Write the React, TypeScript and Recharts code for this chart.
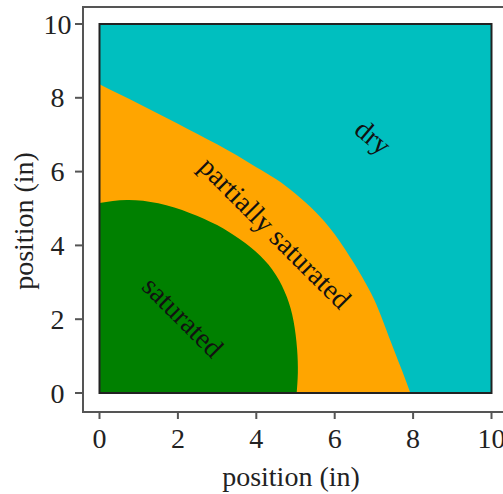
import React from "react";
import {
  ComposedChart,
  Area,
  XAxis,
  YAxis,
  CartesianGrid,
  ReferenceArea,
  ReferenceDot,
} from "recharts";

// zone boundaries (inches), listed along each boundary
const saturatedX = [0, 0.7, 1.5, 2.3, 3.0, 3.6, 4.1, 4.5, 4.78, 4.95, 5.04, 5.06, 5.03];
const saturatedY = [5.15, 5.23, 5.14, 4.88, 4.55, 4.15, 3.72, 3.2, 2.6, 1.95, 1.2, 0.55, 0];

const partialX = [0, 0.5, 1, 1.5, 2, 2.5, 3, 3.5, 4, 4.5, 5, 5.5, 6, 6.5, 6.75, 7, 7.25, 7.5, 7.72, 7.93];
const partialY = [8.37, 8.1, 7.84, 7.57, 7.3, 7.02, 6.74, 6.44, 6.12, 5.8, 5.4, 4.92, 4.3, 3.5, 3.05, 2.55, 1.9, 1.2, 0.6, 0];

const axisTicks = [0, 2, 4, 6, 8, 10];

const zoneNames = ["dry", "partially saturated", "saturated"];
const zoneX = [6.98, 4.48, 2.13];
const zoneY = [6.94, 4.34, 2.06];
const zoneAngle = [40, 45, 45];

// one table; each Area skips the rows of the other boundary (connectNulls)
const data = [
  ...saturatedX.map((x, i) => ({ x, saturated: saturatedY[i], partial: null })),
  ...partialX.map((x, i) => ({ x, saturated: null, partial: partialY[i] })),
];

const FONT = "'Liberation Serif', 'Times New Roman', serif";
const AXIS_GREY = "#555";
const FS = 28;

const XTick = ({ x, y, payload }: any) => (
  <g>
    <line x1={x} x2={x} y1={y + 19} y2={y + 26} stroke={AXIS_GREY} strokeWidth={2} />
    <text x={x} y={y + 55} textAnchor="middle" fontFamily={FONT} fontSize={FS} fill="#222">
      {payload.value}
    </text>
  </g>
);

const YTick = ({ x, y, payload }: any) => (
  <g>
    <line x1={x - 24.5} x2={x - 17} y1={y} y2={y} stroke={AXIS_GREY} strokeWidth={2} />
    <text x={x - 42} y={y + 9.5} textAnchor="middle" fontFamily={FONT} fontSize={FS} fill="#222">
      {payload.value}
    </text>
  </g>
);

const zoneLabel = (i: number) => (props: any) => (
  <text
    x={props.cx}
    y={props.cy}
    transform={`rotate(${zoneAngle[i]} ${props.cx} ${props.cy})`}
    textAnchor="middle"
    dominantBaseline="central"
    fontFamily={FONT}
    fontSize={FS}
    fill="#111"
  >
    {zoneNames[i]}
  </text>
);

export default function App() {
  return (
    <div
      style={{
        position: "absolute",
        left: 0,
        top: 0,
        width: 503,
        height: 494,
        overflow: "hidden",
        background: "#fff",
      }}
    >
      <div
        style={{
          position: "absolute",
          left: 82,
          top: 6,
          width: 460,
          height: 407,
          border: `2px solid ${AXIS_GREY}`,
          boxSizing: "border-box",
        }}
      />
      <div style={{ position: "absolute", left: 0, top: 0 }}>
        <ComposedChart
          width={503}
          height={494}
          data={data}
          margin={{ top: 24, right: 11.5, left: 0, bottom: 0 }}
        >
          <CartesianGrid horizontal={false} vertical={false} fill="#00BFBF" fillOpacity={1} />
          <XAxis
            dataKey="x"
            type="number"
            domain={[0, 10]}
            ticks={axisTicks}
            allowDataOverflow
            axisLine={false}
            tickLine={false}
            tickSize={0}
            tickMargin={0}
            height={101}
            tick={<XTick />}
          />
          <YAxis
            type="number"
            domain={[0, 10]}
            ticks={axisTicks}
            allowDataOverflow
            axisLine={false}
            tickLine={false}
            tickSize={0}
            tickMargin={0}
            width={99.5}
            tick={<YTick />}
          />
          <Area
            type="natural"
            dataKey="partial"
            connectNulls
            fill="#FFA500"
            fillOpacity={1}
            stroke="none"
            dot={false}
            activeDot={false}
            isAnimationActive={false}
          />
          <Area
            type="natural"
            dataKey="saturated"
            connectNulls
            fill="#008000"
            fillOpacity={1}
            stroke="none"
            dot={false}
            activeDot={false}
            isAnimationActive={false}
          />
          <ReferenceArea x1={0} x2={10} y1={0} y2={10} fill="none" stroke="#222" strokeWidth={2} />
          {zoneNames.map((name, i) => (
            <ReferenceDot key={name} x={zoneX[i]} y={zoneY[i]} r={0} shape={zoneLabel(i)} />
          ))}
        </ComposedChart>
      </div>
      <svg
        width={503}
        height={494}
        style={{ position: "absolute", left: 0, top: 0, pointerEvents: "none" }}
      >
        <text x={291} y={486} textAnchor="middle" fontFamily={FONT} fontSize={FS} fill="#222">
          position (in)
        </text>
        <text
          transform="translate(33 221) rotate(-90)"
          textAnchor="middle"
          fontFamily={FONT}
          fontSize={FS}
          fill="#222"
        >
          position (in)
        </text>
      </svg>
    </div>
  );
}
